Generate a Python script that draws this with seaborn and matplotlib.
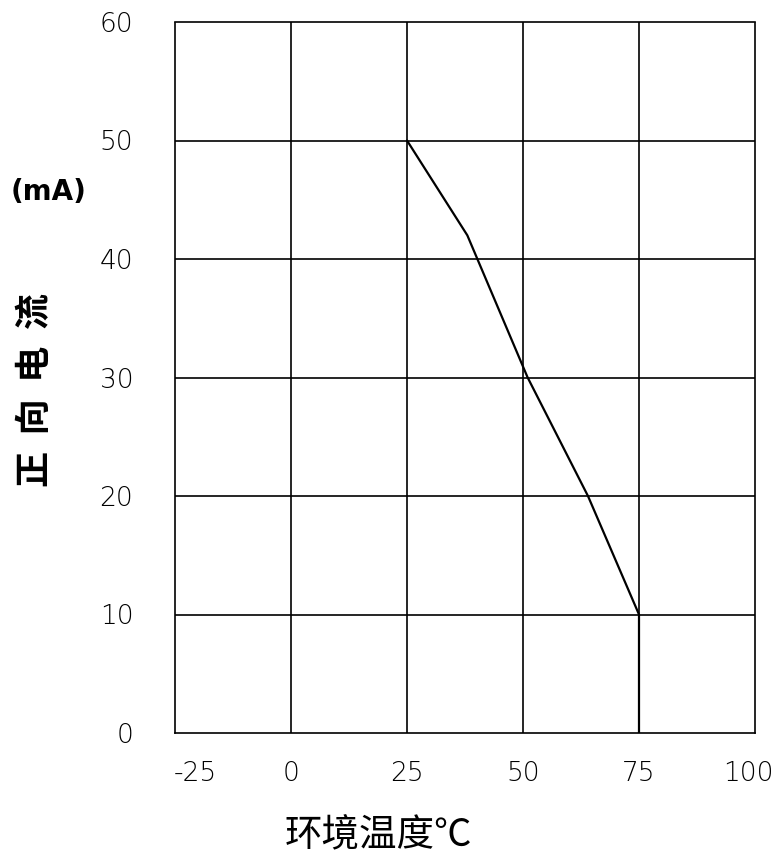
# Forward current derating curve (LED datasheet style)

import pandas as pd
import matplotlib.pyplot as plt
import matplotlib.transforms as mtransforms
import seaborn as sns

# curve
temps = [25, 38, 51, 64, 75, 75]
currents = [50, 42, 30, 20, 10, 0]

x_ticks = [-25, 0, 25, 50, 75, 100]
y_ticks = [0, 10, 20, 30, 40, 50, 60]

df = pd.DataFrame({"temp": temps, "current": currents})

sns.set_style("white", {"text.color": "black", "xtick.color": "black",
                        "ytick.color": "black", "axes.labelcolor": "black"})
plt.rcParams["font.family"] = ["Noto Sans CJK SC", "DejaVu Sans"]

fig = plt.figure(figsize=(7.76, 8.6), dpi=100)
ax = fig.add_axes([175 / 776, 1 - 733 / 860, 580 / 776, 711 / 860])

# grid lines drawn by hand so they sit under the curve
for xv in x_ticks[1:-1]:
    ax.axvline(xv, color="black", lw=1.2, zorder=1)
for yv in y_ticks[1:-1]:
    ax.axhline(yv, color="black", lw=1.2, zorder=1)

sns.lineplot(data=df, x="temp", y="current", sort=False, estimator=None,
             color="black", lw=1.6, ax=ax, zorder=3)

ax.set_xlim(-25, 100)
ax.set_ylim(0, 60)
ax.set_xticks(x_ticks)
ax.set_yticks(y_ticks)
ax.set_xticklabels([str(v) for v in x_ticks], fontsize=19, family="DejaVu Sans",
                   fontweight="light")
ax.set_yticklabels([str(v) for v in y_ticks], fontsize=19, family="DejaVu Sans",
                   fontweight="light")
ax.tick_params(axis="both", length=0, labelcolor="black")
ax.tick_params(axis="x", pad=20)
ax.tick_params(axis="y", pad=30)

# nudge the end labels like in the original
xlabels = ax.get_xticklabels()
xlabels[0].set_transform(xlabels[0].get_transform() +
                         mtransforms.ScaledTranslation(0.2, 0, fig.dpi_scale_trans))
xlabels[-1].set_transform(xlabels[-1].get_transform() +
                          mtransforms.ScaledTranslation(-0.07, 0, fig.dpi_scale_trans))

for side in ["top", "bottom", "left", "right"]:
    ax.spines[side].set_linestyle((0, (2.5, 1)))
    ax.spines[side].set_linewidth(1.2)
    ax.spines[side].set_color("black")

ax.set_xlabel("环境温度℃", fontsize=27, color="black")
ax.xaxis.set_label_coords(0.35, -0.117)
ax.set_ylabel("正  向  电  流", fontsize=26, fontweight="bold", color="black")
ax.yaxis.set_label_coords(-0.208, 0.482)

fig.text(49 / 776, 1 - 192 / 860, "(mA)", fontsize=20, fontweight="bold",
         ha="center", va="center", family="DejaVu Sans", color="black")

plt.savefig("out.png", dpi=100)
